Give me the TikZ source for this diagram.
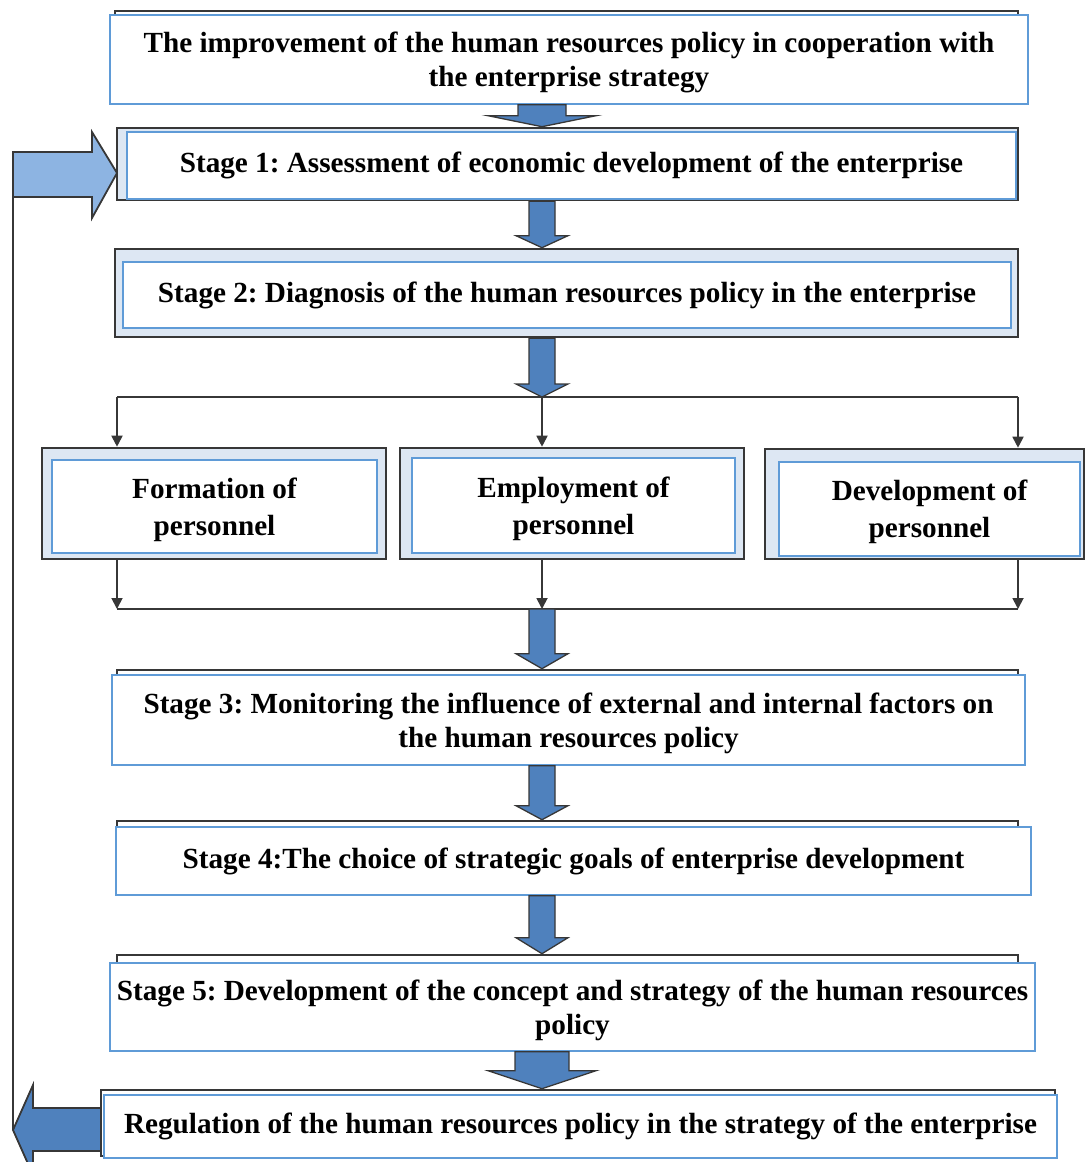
\documentclass[tikz,border=0pt]{standalone}
\usepackage{fontspec}
\setmainfont{Liberation Serif}
\frenchspacing
\usetikzlibrary{arrows.meta,calc}
\definecolor{boxblue}{RGB}{95,155,215}
\definecolor{panelblue}{RGB}{221,231,243}
\definecolor{flowblue}{RGB}{79,129,189}
\definecolor{loopblue}{RGB}{141,180,226}
\definecolor{edgegrey}{RGB}{55,55,55}
% block arrow pointing down: from, to, shaft half width, head half width, head length
\newcommand{\flowdown}[5]{%
    \draw[flowarr] ($(#1)+(-#3,0)$) -- ($(#1)+(#3,0)$) -- ($(#2)+(#3,-#5)$)
        -- ($(#2)+(#4,-#5)$) -- (#2) -- ($(#2)+(-#4,-#5)$) -- ($(#2)+(-#3,-#5)$) -- cycle;}

\begin{document}
\begin{tikzpicture}[x=1pt, y={(0pt,-1pt)},
    backbox/.style={rectangle, draw=edgegrey, line width=2.6pt, fill=white, inner sep=0pt},
    panel/.style={backbox, fill=panelblue},
    stagebox/.style={rectangle, draw=boxblue, line width=1.6pt, fill=white, inner sep=0pt,
        align=center, font=\fontsize{29.2}{34}\selectfont\bfseries},
    twoline/.style={text depth=0pt},
    smallbox/.style={stagebox, twoline, font=\fontsize{29.2}{37}\selectfont\bfseries},
    flowarr/.style={draw=edgegrey, line width=1.3pt, fill=flowblue},
    thinline/.style={line width=1.8pt, edgegrey},
    thinarr/.style={thinline, -{Triangle[length=11pt, width=11pt]}}
]
    \useasboundingbox (0,0) rectangle (1085,1162);
    \coordinate (axis) at (542,0);

    % feedback loop
    \coordinate (looptop) at (13,152);
    \coordinate (fbtip) at (117,173);
    \coordinate (loopend) at (13,1130);
    \draw[flowarr, fill=loopblue, line width=1.8pt] (looptop) -- (92,152) -- (92,132) -- (fbtip)
        -- (92,218) -- (92,197) -- (13,197) -- cycle;
    \draw[thinline, line width=2pt] (looptop) -- (loopend);
    \draw[flowarr, line width=1.8pt] (101,1108) -- (33,1108) -- (33,1085) -- (loopend)
        -- (33,1175) -- (33,1151) -- (101,1151) -- cycle;

    % stages
    \node[backbox, minimum width=903pt, minimum height=89pt] (goalbk) at (566.5,55.5) {};
    \node[stagebox, twoline, minimum width=918pt, minimum height=89pt] (goal) at (569,59.5)
        {The improvement of the human resources policy in cooperation with\\the enterprise strategy};

    \node[panel, minimum width=901pt, minimum height=72pt] (stage1bk) at (567.5,164) {};
    \node[stagebox, minimum width=889pt, minimum height=67pt] (stage1) at (571.5,165.5)
        {Stage 1: Assessment of economic development of the enterprise};

    \node[panel, minimum width=903pt, minimum height=88pt] (stage2bk) at (566.5,293) {};
    \node[stagebox, minimum width=888pt, minimum height=66pt] (stage2) at (567,295)
        {Stage 2: Diagnosis of the human resources policy in the enterprise};

    \node[panel, minimum width=344pt, minimum height=111pt] (formbk) at (214,503.5) {};
    \node[smallbox, minimum width=325pt, minimum height=93pt] (form) at (214.5,506.5)
        {Formation of\\personnel};
    \node[panel, minimum width=344pt, minimum height=111pt] (emplbk) at (572,503.5) {};
    \node[smallbox, minimum width=323pt, minimum height=95pt] (empl) at (573.5,505.5)
        {Employment of\\personnel};
    \node[panel, minimum width=319pt, minimum height=110pt] (develbk) at (924.5,504) {};
    \node[smallbox, minimum width=301pt, minimum height=94pt] (devel) at (929.5,509)
        {Development of\\personnel};

    \node[backbox, minimum width=901pt, minimum height=90pt] (stage3bk) at (567.5,715) {};
    \node[stagebox, twoline, minimum width=913pt, minimum height=90pt] (stage3) at (568.5,720)
        {Stage 3: Monitoring the influence of external and internal factors on\\the human resources policy};

    \node[backbox, minimum width=901pt, minimum height=69pt] (stage4bk) at (567.5,855.5) {};
    \node[stagebox, minimum width=915pt, minimum height=68pt] (stage4) at (573.5,861)
        {Stage 4:The choice of strategic goals of enterprise development};

    \node[backbox, minimum width=901pt, minimum height=90pt] (stage5bk) at (567.5,1000) {};
    \node[stagebox, twoline, minimum width=925pt, minimum height=88pt] (stage5) at (572.5,1007)
        {Stage 5: Development of the concept and strategy of the human resources\\policy};

    \node[backbox, minimum width=954pt, minimum height=66pt] (regulbk) at (578,1123) {};
    \node[stagebox, minimum width=953pt, minimum height=63pt] (regul) at (580.5,1126.5)
        {Regulation of the human resources policy in the strategy of the enterprise};

    % split into the three directions and join again
    \coordinate (splitL) at (117,397);
    \coordinate (split) at (542,397);
    \coordinate (splitR) at (1018,397);
    \draw[thinline] (splitL) -- (splitR);
    \draw[thinarr] (splitL) -- (splitL |- formbk.north);
    \draw[thinarr] (split) -- (split |- emplbk.north);
    \draw[thinarr] (splitR) -- (splitR |- develbk.north);
    \coordinate (joinL) at (117,609);
    \coordinate (join) at (542,609);
    \coordinate (joinR) at (1018,609);
    \draw[thinline] (joinL) -- (joinR);
    \draw[thinarr] (joinL |- formbk.south) -- (joinL);
    \draw[thinarr] (join |- emplbk.south) -- (join);
    \draw[thinarr] (joinR |- develbk.south) -- (joinR);

    % block arrows between the stages
    \flowdown{goal.south -| axis}{stage1bk.north -| axis}{24}{54}{11}
    \flowdown{stage1bk.south -| axis}{stage2bk.north -| axis}{13}{26}{12}
    \flowdown{stage2bk.south -| axis}{split}{13}{26}{13}
    \flowdown{join}{stage3bk.north -| axis}{13}{26}{15}
    \flowdown{stage3.south -| axis}{stage4bk.north -| axis}{13}{26}{14}
    \flowdown{stage4.south -| axis}{stage5bk.north -| axis}{13}{26}{16}
    \flowdown{stage5.south -| axis}{regulbk.north -| axis}{27}{54}{18}
\end{tikzpicture}
\end{document}
